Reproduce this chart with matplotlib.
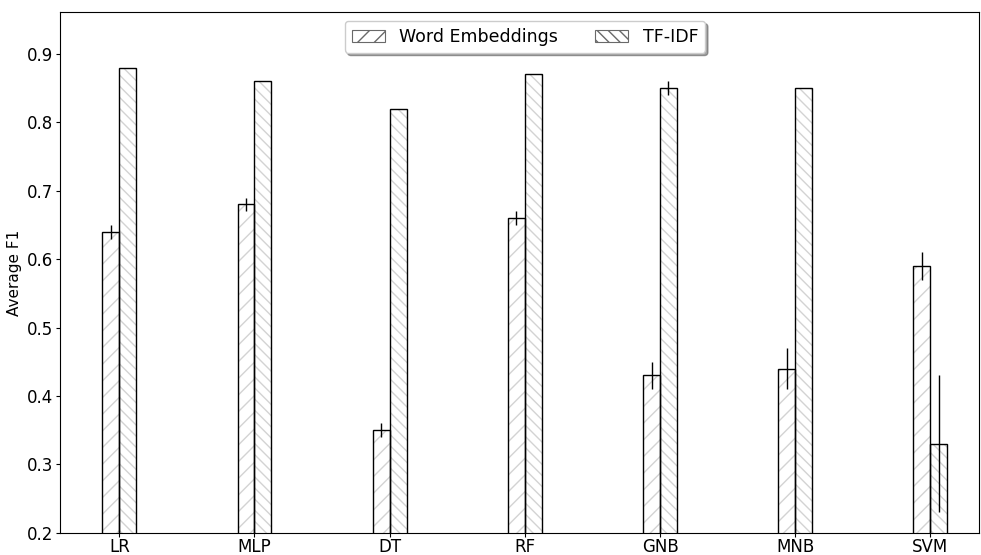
import numpy as np
import matplotlib
matplotlib.use("Agg")
import matplotlib.pyplot as plt

# model names and scores
models = ["LR", "MLP", "DT", "RF", "GNB", "MNB", "SVM"]
word_emb = [0.64, 0.68, 0.35, 0.66, 0.43, 0.44, 0.59]
word_emb_err = [0.01, 0.01, 0.01, 0.01, 0.02, 0.03, 0.02]
tfidf = [0.88, 0.86, 0.82, 0.87, 0.85, 0.85, 0.33]
tfidf_err = [0.0, 0.0, 0.0, 0.0, 0.01, 0.0, 0.10]

x = np.arange(len(models))
w = 0.125

fig, ax = plt.subplots(figsize=(9.81, 5.55), dpi=100)

# hatched fill in light gray, then black outline on top
ax.bar(x - w / 2, word_emb, w, color="white", edgecolor="lightgray", hatch="//", linewidth=0)
ax.bar(x + w / 2, tfidf, w, color="white", edgecolor="lightgray", hatch="\\\\\\", linewidth=0)
ax.bar(x - w / 2, word_emb, w, fill=False, edgecolor="black", linewidth=1, yerr=word_emb_err,
       ecolor="black", error_kw={"elinewidth": 1})
ax.bar(x + w / 2, tfidf, w, fill=False, edgecolor="black", linewidth=1, yerr=tfidf_err,
       ecolor="black", error_kw={"elinewidth": 1})

# legend handles with same look
h1 = plt.Rectangle((0, 0), 1, 1, facecolor="white", edgecolor="dimgray", hatch="//", linewidth=0.8)
h2 = plt.Rectangle((0, 0), 1, 1, facecolor="white", edgecolor="dimgray", hatch="\\\\\\", linewidth=0.8)
ax.legend([h1, h2], ["Word Embeddings", "TF-IDF"], loc="upper center", ncol=2,
          fontsize=12.5, fancybox=True, shadow=True, handlelength=1.9,
          handletextpad=0.85, columnspacing=2.1, bbox_to_anchor=(0.506, 1.0))

ax.set_xticks(x)
ax.set_xticklabels(models, fontsize=12)
ax.tick_params(axis="x", length=3, pad=1)
ax.tick_params(axis="y", labelsize=12, length=3, pad=1.5)
ax.set_ylabel("Average F1", fontsize=11)
ax.set_xlim(-0.44, 6.36)
ax.set_ylim(0.2, 0.961)

plt.subplots_adjust(left=0.061, right=0.998, top=0.978, bottom=0.04)
plt.savefig("out.png")
